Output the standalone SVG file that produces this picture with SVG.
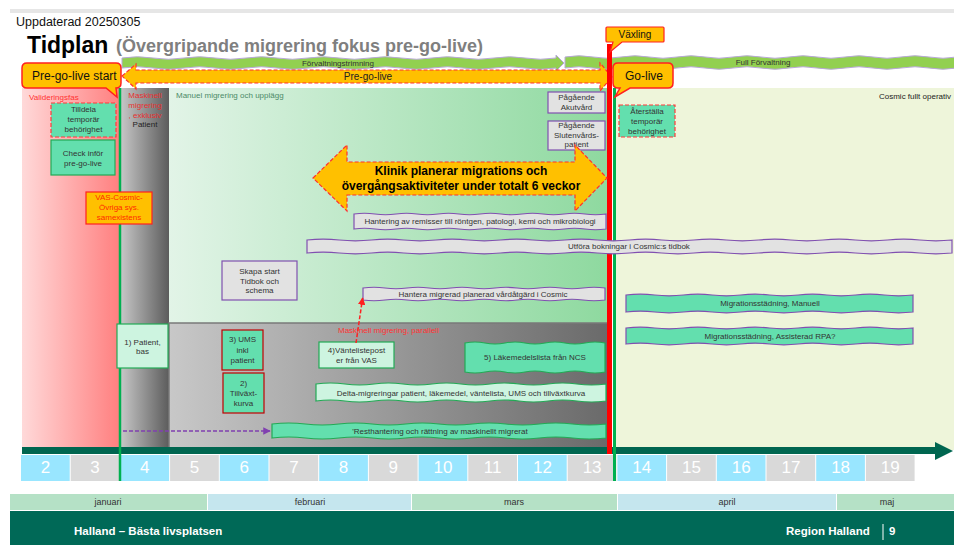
<svg xmlns="http://www.w3.org/2000/svg" width="954" height="545" viewBox="0 0 954 545">
<defs>
<linearGradient id="gRed" x1="0" x2="1" y1="0" y2="0"><stop offset="0" stop-color="#FFD9D9"/><stop offset="1" stop-color="#FF7F7F"/></linearGradient>
<linearGradient id="gGrayEx" x1="0" x2="1" y1="0" y2="0"><stop offset="0" stop-color="#C6C6C6"/><stop offset="1" stop-color="#5C5C5C"/></linearGradient>
<linearGradient id="gGreen" x1="0" x2="1" y1="0" y2="0"><stop offset="0" stop-color="#E2F4E7"/><stop offset="1" stop-color="#8ED99F"/></linearGradient>
<linearGradient id="gGrayPar" x1="0" x2="1" y1="0" y2="0"><stop offset="0" stop-color="#C8C8C8"/><stop offset="1" stop-color="#6A6A6A"/></linearGradient>
<marker id="aR" viewBox="0 0 10 10" refX="9" refY="5" markerWidth="5" markerHeight="5" orient="auto"><path d="M0,0 L10,5 L0,10 z" fill="#FF2020"/></marker>
<marker id="aP" viewBox="0 0 10 10" refX="9" refY="5" markerWidth="5" markerHeight="5" orient="auto"><path d="M0,0 L10,5 L0,10 z" fill="#8040B0"/></marker>
</defs>
<style>
text{font-family:"Liberation Sans",Arial,sans-serif}
.s8{font-size:8px;fill:#333}
.c{text-anchor:middle}
.mint{fill:#63DFAE}
.lmint{fill:#CDF4E0}
.gbox{fill:#E2E2E2;stroke:#8050B0;stroke-width:1.2}
.gb{stroke:#22AA55;stroke-width:1.2}
.rb{stroke:#C00000;stroke-width:1.2}
.rd{stroke:#FF3B3B;stroke-width:1.2;stroke-dasharray:4 2}
.pb{stroke:#8050B0;stroke-width:1.2}
.org{fill:#FFC000}
.wk{font-size:17px;fill:#fff;text-anchor:middle}
.bl{fill:#99E6FF}
.gy{fill:#D9D9D9}
.mo{font-size:9px;fill:#333;text-anchor:middle}
.grn{fill:#92D050;stroke:#B8A8D8;stroke-width:1}
.ft{font-size:11.5px;font-weight:bold;fill:#fff}
</style>

<!-- background regions -->
<rect x="10" y="9" width="944" height="4" fill="#E6E6E6"/>
<g id="bg-validering"><rect x="22" y="88" width="98" height="360" fill="url(#gRed)"/></g>
<g id="bg-exklusiv"><rect x="121" y="88" width="48" height="362" fill="url(#gGrayEx)"/></g>
<g id="bg-manuell"><rect x="169" y="88" width="439" height="235" fill="url(#gGreen)"/></g>
<g id="bg-parallell"><rect x="169" y="323" width="439" height="127" fill="url(#gGrayPar)" stroke="#7A7A7A" stroke-width="1.5"/></g>
<g id="bg-cosmic"><rect x="613" y="88" width="341" height="362" fill="#EEF5DA"/></g>

<!-- timeline -->
<g id="timeline">
<rect x="22" y="447" width="915" height="7" fill="#006650"/>
<polygon points="935,442 953,451 935,460" fill="#006650"/>
<rect class="bl" x="21" y="455" width="48.7" height="26"/><text class="wk" x="45.4" y="473">2</text>
<rect class="gy" x="70.7" y="455" width="48.7" height="26"/><text class="wk" x="95" y="473">3</text>
<rect class="bl" x="120.4" y="455" width="48.7" height="26"/><text class="wk" x="144.8" y="473">4</text>
<rect class="gy" x="170.1" y="455" width="48.7" height="26"/><text class="wk" x="194.5" y="473">5</text>
<rect class="bl" x="219.8" y="455" width="48.7" height="26"/><text class="wk" x="244.2" y="473">6</text>
<rect class="gy" x="269.5" y="455" width="48.7" height="26"/><text class="wk" x="293.9" y="473">7</text>
<rect class="bl" x="319.2" y="455" width="48.7" height="26"/><text class="wk" x="343.6" y="473">8</text>
<rect class="gy" x="368.9" y="455" width="48.7" height="26"/><text class="wk" x="393.3" y="473">9</text>
<rect class="bl" x="418.6" y="455" width="48.7" height="26"/><text class="wk" x="443" y="473">10</text>
<rect class="gy" x="468.3" y="455" width="48.7" height="26"/><text class="wk" x="492.7" y="473">11</text>
<rect class="bl" x="518" y="455" width="48.7" height="26"/><text class="wk" x="542.4" y="473">12</text>
<rect class="gy" x="567.7" y="455" width="48.7" height="26"/><text class="wk" x="592.1" y="473">13</text>
<rect class="bl" x="617.4" y="455" width="48.7" height="26"/><text class="wk" x="641.8" y="473">14</text>
<rect class="gy" x="667.1" y="455" width="48.7" height="26"/><text class="wk" x="691.5" y="473">15</text>
<rect class="bl" x="716.8" y="455" width="48.7" height="26"/><text class="wk" x="741.2" y="473">16</text>
<rect class="gy" x="766.5" y="455" width="48.7" height="26"/><text class="wk" x="790.9" y="473">17</text>
<rect class="bl" x="816.2" y="455" width="48.7" height="26"/><text class="wk" x="840.6" y="473">18</text>
<rect class="gy" x="865.9" y="455" width="48.7" height="26"/><text class="wk" x="890.3" y="473">19</text>
</g>

<!-- months -->
<g id="months">
<rect x="10" y="494" width="197" height="16" fill="#B5E1C6"/><text class="mo" x="108" y="505">januari</text>
<rect x="208" y="494" width="203" height="16" fill="#C5E6EE"/><text class="mo" x="310" y="505">februari</text>
<rect x="412" y="494" width="205" height="16" fill="#B5E1C6"/><text class="mo" x="514" y="505">mars</text>
<rect x="618" y="494" width="218" height="16" fill="#C5E6EE"/><text class="mo" x="727" y="505">april</text>
<rect x="837" y="494" width="117" height="16" fill="#B5E1C6"/><text class="mo" x="887" y="505">maj</text>
</g>

<!-- footer -->
<g id="footer">
<rect x="10" y="511" width="944" height="34" fill="#006957"/>
<text class="ft" x="74" y="535">Halland – Bästa livsplatsen</text>
<text class="ft" x="786" y="535">Region Halland</text>
<line x1="883" y1="524" x2="883" y2="540" stroke="#fff" stroke-width="1"/>
<text class="ft" x="889" y="535">9</text>
</g>

<!-- header -->
<g id="header">
<text x="16" y="26" font-size="12.5" fill="#111">Uppdaterad 20250305</text>
<text x="27" y="53" font-size="23" font-weight="bold" fill="#000">Tidplan</text>
<text x="116" y="52" font-size="18" font-weight="bold" fill="#7F7F7F">(Övergripande migrering fokus pre-go-live)</text>
</g>

<!-- top bars -->
<g id="forvaltningstrimning">
<path class="grn" d="M122,58 q15.5,-2.5 31,0 t31,0 t31,0 t31,0 t31,0 t31,0 t31,0 t31,0 t31,0 t31,0 t31,0 t31,0 t31,0 t31,0 L556,55 L564,63 L556,71 L556,68 q-15.5,2.5 -31,0 t-31,0 t-31,0 t-31,0 t-31,0 t-31,0 t-31,0 t-31,0 t-31,0 t-31,0 t-31,0 t-31,0 t-31,0 t-31,0 Z"/>
<text class="s8 c" x="338" y="66">Förvaltningstrimning</text>
</g>
<g id="full-forvaltning">
<path class="grn" d="M565,57 q14,-2.5 28,0 t28,0 t28,0 t28,0 t28,0 t28,0 t28,0 t28,0 t28,0 t28,0 t28,0 t28,0 t28,0 t28,0 L957,68 q-14,2.5 -28,0 t-28,0 t-28,0 t-28,0 t-28,0 t-28,0 t-28,0 t-28,0 t-28,0 t-28,0 t-28,0 t-28,0 t-28,0 t-28,0 Z"/>
<text class="s8 c" x="763" y="65">Full Förvaltning</text>
</g>
<g id="pre-go-live">
<path d="M122,76 L136,64 L136,70 L600,70 L600,63 L612,77 L600,91 L600,83 L136,83 L136,89 Z" fill="#FFC000" stroke="#FF3030" stroke-width="1.2" stroke-dasharray="4 2"/>
<text class="c" x="368" y="80" font-size="10" fill="#222">Pre-go-live</text>
</g>

<!-- vertical lines -->
<g id="lines">
<line x1="120" y1="88" x2="120" y2="481" stroke="#00B050" stroke-width="2.5"/>
<line x1="614.5" y1="88" x2="614.5" y2="481" stroke="#00B050" stroke-width="3"/>
<rect x="607" y="44" width="5" height="410" fill="#FF0000"/>
</g>

<!-- callouts -->
<g id="pre-go-live-start">
<path d="M27,63 L116,63 Q121,63 121,68 L121,83 Q121,88 116,88 L117,97 L106,88 L27,88 Q22,88 22,83 L22,68 Q22,63 27,63 Z" fill="#FFC000" stroke="#FF2020" stroke-width="1.5"/>
<text x="32" y="80" font-size="12" fill="#111">Pre-go-live start</text>
</g>
<g id="vaxling">
<path d="M607,27 L663,27 Q664,27 664,28 L664,41 Q664,42 663,42 L622,42 L610,52 L613,42 L607,42 Q606,42 606,41 L606,28 Q606,27 607,27 Z" fill="#FFC000" stroke="#FF2020" stroke-width="1.2"/>
<text class="c" x="635" y="38" font-size="10" fill="#111">Växling</text>
</g>
<g id="go-live">
<path d="M618,63 L668,63 Q673,63 673,68 L673,83 Q673,88 668,88 L630,88 L615,97 L620,88 L618,88 Q613,88 613,83 L613,68 Q613,63 618,63 Z" fill="#FFC000" stroke="#FF2020" stroke-width="1.5"/>
<text x="625" y="80" font-size="12" fill="#111">Go-live</text>
</g>

<!-- region labels -->
<g id="labels">
<text class="s8" x="29" y="100" style="fill:#FF3333">Valideringsfas</text>
<text class="s8 c" x="145" y="98" style="fill:#E83030">Maskinell</text>
<text class="s8 c" x="145" y="108" style="fill:#E83030">migrering</text>
<text class="s8 c" x="145" y="118" style="fill:#E83030">, exklusiv</text>
<text class="s8 c" x="145" y="127" style="fill:#222">Patient</text>
<text class="s8" x="176" y="98" style="fill:#4C8A68">Manuel migrering och upplägg</text>
<text class="s8" x="951" y="99" text-anchor="end" style="fill:#222">Cosmic fullt operativ</text>
<text class="s8" x="338" y="333" style="fill:#FF3333">Maskinell migrering, parallell</text>
</g>

<!-- nodes -->
<g id="tilldela">
<rect class="mint rd" x="51" y="103" width="65" height="34"/>
<text class="s8 c" x="83.5" y="112">Tilldela</text><text class="s8 c" x="83.5" y="122">temporär</text><text class="s8 c" x="83.5" y="132">behörighet</text>
</g>
<g id="check">
<rect class="mint gb" x="51" y="140" width="64" height="35"/>
<text class="s8 c" x="83" y="156">Check inför</text><text class="s8 c" x="83" y="166">pre-go-live</text>
</g>
<g id="vas-cosmic">
<rect class="org rb" x="86" y="192" width="66" height="32" style="stroke:#FF2020"/>
<text class="s8 c" x="119" y="200" style="fill:#FF2B00">VAS-Cosmic-</text><text class="s8 c" x="119" y="210" style="fill:#FF2B00">Övriga sys.</text><text class="s8 c" x="119" y="220" style="fill:#FF2B00">samexistens</text>
</g>
<g id="akutvard">
<rect class="gbox" x="548" y="92" width="57" height="21"/>
<text class="s8 c" x="576.5" y="100">Pågående</text><text class="s8 c" x="576.5" y="110">Akutvård</text>
</g>
<g id="slutenvard">
<rect class="gbox" x="548" y="121" width="57" height="29"/>
<text class="s8 c" x="576.5" y="128">Pågående</text><text class="s8 c" x="576.5" y="138">Slutenvårds-</text><text class="s8 c" x="576.5" y="147">patient</text>
</g>
<g id="aterstalla">
<rect class="mint rd" x="619" y="105" width="56" height="32"/>
<text class="s8 c" x="647" y="114">Återställa</text><text class="s8 c" x="647" y="124">temporär</text><text class="s8 c" x="647" y="134">behörighet</text>
</g>
<g id="klinik">
<path d="M313,178 L347,145 L347,162 L575,162 L575,145 L607,178 L575,211 L575,195 L347,195 L347,211 Z" fill="#FFC000" stroke="#FF3030" stroke-width="1.2" stroke-dasharray="4 2"/>
<text class="c" x="461" y="175" font-size="12" font-weight="bold" fill="#000">Klinik planerar migrations och</text>
<text class="c" x="461" y="190" font-size="12" font-weight="bold" fill="#000">övergångsaktiviteter under totalt 6 veckor</text>
</g>
<g id="remisser">
<path class="gbox" d="M354,214 q10.5,-1.5 21,0 t21,0 t21,0 t21,0 t21,0 t21,0 t21,0 t21,0 t21,0 t21,0 t21,0 t21,0 L606,229 q-10.5,1.5 -21,0 t-21,0 t-21,0 t-21,0 t-21,0 t-21,0 t-21,0 t-21,0 t-21,0 t-21,0 t-21,0 t-21,0 Z"/>
<text class="s8 c" x="480" y="224">Hantering av remisser till röntgen, patologi, kemi och mikrobiologi</text>
</g>
<g id="utfora">
<path class="gbox" d="M307,240 q16.125,-1.6 32.25,0 t32.25,0 t32.25,0 t32.25,0 t32.25,0 t32.25,0 t32.25,0 t32.25,0 t32.25,0 t32.25,0 t32.25,0 t32.25,0 t32.25,0 t32.25,0 t32.25,0 t32.25,0 t32.25,0 t32.25,0 t32.25,0 t32.25,0 L952,253 q-16.125,1.6 -32.25,0 t-32.25,0 t-32.25,0 t-32.25,0 t-32.25,0 t-32.25,0 t-32.25,0 t-32.25,0 t-32.25,0 t-32.25,0 t-32.25,0 t-32.25,0 t-32.25,0 t-32.25,0 t-32.25,0 t-32.25,0 t-32.25,0 t-32.25,0 t-32.25,0 t-32.25,0 Z"/>
<text class="s8" x="568" y="249">Utföra bokningar i Cosmic:s tidbok</text>
</g>
<g id="skapa">
<rect class="gbox" x="222" y="261" width="75" height="39"/>
<text class="s8 c" x="259.5" y="274">Skapa start</text><text class="s8 c" x="259.5" y="284">Tidbok och</text><text class="s8 c" x="259.5" y="293">schema</text>
</g>
<g id="hantera-migrerad">
<path class="gbox" d="M363,288 q11,-1.5 22,0 t22,0 t22,0 t22,0 t22,0 t22,0 t22,0 t22,0 t22,0 t22,0 t22,0 L605,300 q-11,1.5 -22,0 t-22,0 t-22,0 t-22,0 t-22,0 t-22,0 t-22,0 t-22,0 t-22,0 t-22,0 t-22,0 Z"/>
<text class="s8 c" x="483" y="297">Hantera migrerad planerad vårdåtgärd i Cosmic</text>
</g>
<g id="stadning-manuell">
<path class="mint pb" d="M626,295 q14.35,-1.6 28.7,0 t28.7,0 t28.7,0 t28.7,0 t28.7,0 t28.7,0 t28.7,0 t28.7,0 t28.7,0 t28.7,0 L913,312 q-14.35,1.6 -28.7,0 t-28.7,0 t-28.7,0 t-28.7,0 t-28.7,0 t-28.7,0 t-28.7,0 t-28.7,0 t-28.7,0 t-28.7,0 Z"/>
<text class="s8 c" x="770" y="306">Migrationsstädning, Manuell</text>
</g>
<g id="stadning-rpa">
<path class="mint pb" d="M626,328 q14.35,-1.6 28.7,0 t28.7,0 t28.7,0 t28.7,0 t28.7,0 t28.7,0 t28.7,0 t28.7,0 t28.7,0 t28.7,0 L913,344 q-14.35,1.6 -28.7,0 t-28.7,0 t-28.7,0 t-28.7,0 t-28.7,0 t-28.7,0 t-28.7,0 t-28.7,0 t-28.7,0 t-28.7,0 Z"/>
<text class="s8 c" x="770" y="339">Migrationsstädning, Assisterad RPA?</text>
</g>
<g id="patient-bas">
<rect class="lmint gb" x="117" y="324" width="51" height="44"/>
<text class="s8 c" x="142.5" y="345">1) Patient,</text><text class="s8 c" x="142.5" y="354">bas</text>
</g>
<g id="ums">
<rect class="mint rb" x="222" y="330" width="41" height="40"/>
<text class="s8 c" x="242.5" y="342">3) UMS</text><text class="s8 c" x="242.5" y="353">inkl</text><text class="s8 c" x="242.5" y="363">patient</text>
</g>
<g id="tillvaxt">
<rect class="mint rb" x="223" y="373" width="41" height="40"/>
<text class="s8 c" x="243.5" y="386">2)</text><text class="s8 c" x="243.5" y="396">Tillväxt-</text><text class="s8 c" x="243.5" y="406">kurva</text>
</g>
<g id="vantelista">
<rect class="lmint gb" x="319" y="342" width="75" height="26"/>
<text class="s8 c" x="356.5" y="353">4)Väntelistepost</text><text class="s8 c" x="356.5" y="363">er från VAS</text>
</g>
<g id="lakemedel">
<path class="mint gb" d="M465,343 q10,-2 20,0 t20,0 t20,0 t20,0 t20,0 t20,0 t20,0 L605,372 q-10,2 -20,0 t-20,0 t-20,0 t-20,0 t-20,0 t-20,0 t-20,0 Z"/>
<text class="s8 c" x="535" y="360">5) Läkemedelslista från NCS</text>
</g>
<g id="delta">
<path class="lmint gb" d="M316,384 q14.5,-2 29,0 t29,0 t29,0 t29,0 t29,0 t29,0 t29,0 t29,0 t29,0 t29,0 L606,401 q-14.5,2 -29,0 t-29,0 t-29,0 t-29,0 t-29,0 t-29,0 t-29,0 t-29,0 t-29,0 t-29,0 Z"/>
<text class="s8 c" x="461" y="396">Delta-migreringar patient, läkemedel, väntelista, UMS och tillväxtkurva</text>
</g>
<g id="resthantering">
<path class="mint gb" d="M272,424 q16.7,-2 33.4,0 t33.4,0 t33.4,0 t33.4,0 t33.4,0 t33.4,0 t33.4,0 t33.4,0 t33.4,0 t33.4,0 L606,438 q-16.7,2 -33.4,0 t-33.4,0 t-33.4,0 t-33.4,0 t-33.4,0 t-33.4,0 t-33.4,0 t-33.4,0 t-33.4,0 t-33.4,0 Z"/>
<text class="s8 c" x="440" y="434">'Resthantering och rättning av maskinellt migrerat</text>
</g>

<!-- connectors -->
<g id="connectors">
<line x1="356" y1="343" x2="362.6" y2="298" stroke="#FF2020" stroke-width="1.5" stroke-dasharray="4 2" marker-end="url(#aR)"/>
<line x1="123" y1="431" x2="270" y2="431" stroke="#8040B0" stroke-width="1.5" stroke-dasharray="4 2" marker-end="url(#aP)"/>
</g>
</svg>
